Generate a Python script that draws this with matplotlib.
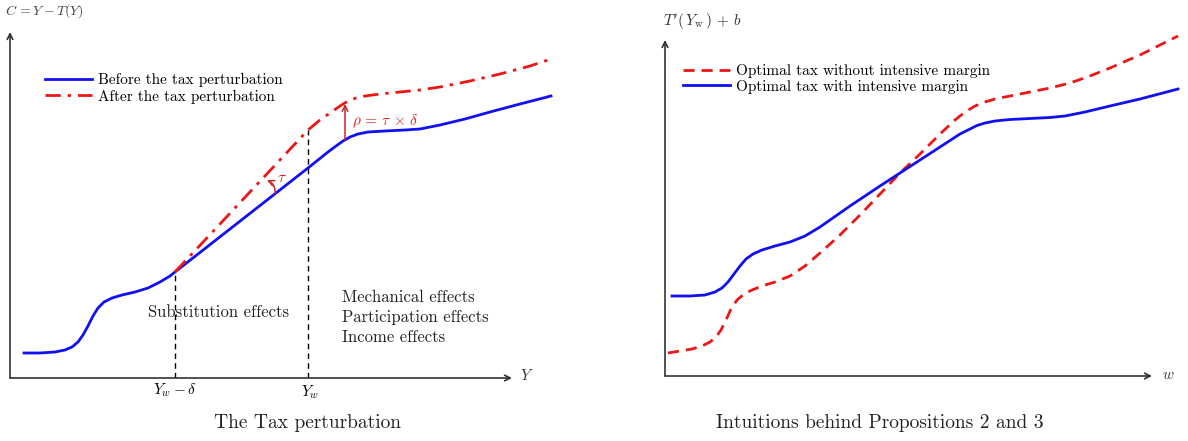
import matplotlib
matplotlib.use("Agg")
import matplotlib.pyplot as plt

plt.rcParams['font.family'] = 'serif'
plt.rcParams['font.serif'] = ['cmr10', 'DejaVu Serif']
plt.rcParams['mathtext.fontset'] = 'cm'
plt.rcParams['axes.unicode_minus'] = False

# --- left panel: the tax perturbation (units ~ pixels from the origin) ---
before_x = [14, 30, 45, 55, 62, 68, 73, 78, 83, 88, 94, 102, 112, 125, 138, 150, 160, 165,
            298, 308, 318, 326, 333, 340, 348, 358, 375, 395, 410, 430, 455, 480, 510, 541]
before_y = [25, 25, 26, 28, 31, 36, 43, 52, 62, 70, 76, 80, 83, 86, 90, 96, 102, 106,
            210, 218, 226, 232, 237, 241, 244, 246, 247, 248, 249, 253, 259, 266, 274, 282]
after_x = [165, 298, 310, 320, 330, 338, 346, 355, 370, 390, 410, 430, 460, 490, 520, 541]
after_y = [106, 248, 258, 265, 272, 277, 280, 282, 284, 286, 288, 291, 297, 304, 312, 319]
y_w_minus_delta = 165
y_w = 298
rho_x = 335
rho_lo, rho_hi = 238, 274
left_notes = ["Mechanical effects", "Participation effects", "Income effects"]

# --- right panel: optimal taxes ---
with_x = [7, 25, 40, 50, 57, 63, 69, 75, 81, 88, 97, 110, 125, 140, 155, 185, 215, 255, 295,
          305, 312, 320, 330, 345, 365, 385, 400, 420, 445, 475, 513]
with_y = [80, 80, 81, 84, 88, 94, 102, 110, 117, 122, 126, 130, 134, 140, 149, 170, 190, 216, 242,
          247, 250.5, 253, 255, 256.5, 257.5, 258.5, 260, 264, 270, 277, 287]
without_x = [3, 15, 27, 37, 45, 51, 56, 61, 66, 72, 79, 87, 97, 110, 125, 140, 155, 175, 195, 215,
             235, 255, 275, 290, 300, 310, 320, 330, 345, 365, 385, 405, 425, 445, 475, 513]
without_y = [23, 25, 27, 30, 34, 39, 46, 56, 67, 76, 82, 86, 90, 94, 100, 110, 123, 141, 161, 182,
             203, 222, 242, 256, 264, 270, 274, 277, 280, 284, 288, 293, 300, 308, 321, 340]

BLUE = '#1010f0'
RED = '#ee1515'
AX = '#333333'
W, H = 1188, 441

fig = plt.figure(figsize=(11.88, 4.41), dpi=100)

# left axes: origin at pixel (10, 378)
ax1 = fig.add_axes([10 / W, (H - 378) / H, 550 / W, 353 / H])
ax1.set_xlim(0, 550)
ax1.set_ylim(0, 353)
ax1.axis('off')

ax1.annotate('', xy=(502, 0), xytext=(0, 0), annotation_clip=False,
             arrowprops=dict(arrowstyle='->', lw=1.2, color=AX, shrinkA=0, shrinkB=0))
ax1.annotate('', xy=(0, 346), xytext=(0, 0), annotation_clip=False,
             arrowprops=dict(arrowstyle='->', lw=1.2, color=AX, shrinkA=0, shrinkB=0))

ax1.plot([y_w_minus_delta, y_w_minus_delta], [0, before_y[before_x.index(y_w_minus_delta)]],
         color='black', lw=1, ls=(0, (4, 3)))
ax1.plot([y_w, y_w], [0, after_y[after_x.index(y_w)]], color='black', lw=1, ls=(0, (4, 3)))

l1, = ax1.plot(before_x, before_y, color=BLUE, lw=2, solid_joinstyle='round',
               label='Before the tax perturbation')
l2, = ax1.plot(after_x, after_y, color=RED, lw=2, ls=(0, (5.5, 2.5, 1.2, 2.5)),
               label='After the tax perturbation')

ax1.annotate('', xy=(rho_x, rho_hi), xytext=(rho_x, rho_lo),
             arrowprops=dict(arrowstyle='->', lw=1.1, color='#cc2222', shrinkA=0, shrinkB=0))
ax1.text(rho_x + 7, (rho_lo + rho_hi) / 2 + 1, r'$\rho\,=\,\tau\,\times\,\delta$',
         color='#dd2222', fontsize=11, va='center', ha='left')
ax1.annotate('', xy=(257, 198), xytext=(265, 184),
             arrowprops=dict(arrowstyle='->', lw=1.1, color='#cc2222', shrinkA=0, shrinkB=0,
                             connectionstyle='arc3,rad=0.35'))
ax1.text(267, 200, r'$\tau$', color='#dd2222', fontsize=11, va='center', ha='left')

ax1.text(138, 66, 'Substitution effects', fontsize=12, va='center', ha='left', color='#222222')
for i, note in enumerate(left_notes):
    ax1.text(332, 81 - i * 20, note, fontsize=12, va='center', ha='left', color='#222222')

ax1.text(y_w_minus_delta, -12, r'$Y_w-\delta$', fontsize=11, ha='center', va='center')
ax1.text(y_w + 2, -14, r'$Y_w$', fontsize=11, ha='center', va='center')
ax1.text(517, 3, r'$Y$', fontsize=11, ha='center', va='center', color='#333333')
ax1.text(-5, 367, r'$C\,=Y-T(Y)$', fontsize=10, ha='left', va='center', color='#444444')

ax1.legend(handles=[l1, l2], loc='upper left', bbox_to_anchor=(45 / W, 1 - 73 / H),
           bbox_transform=fig.transFigure, frameon=False, fontsize=11, borderpad=0,
           borderaxespad=0, handlelength=3.1, handletextpad=0.4, labelspacing=0.15)

# right axes: origin at pixel (665, 376)
ax2 = fig.add_axes([665 / W, (H - 376) / H, 520 / W, 351 / H])
ax2.set_xlim(0, 520)
ax2.set_ylim(0, 351)
ax2.axis('off')

ax2.annotate('', xy=(487, 0), xytext=(0, 0), annotation_clip=False,
             arrowprops=dict(arrowstyle='->', lw=1.2, color=AX, shrinkA=0, shrinkB=0))
ax2.annotate('', xy=(0, 336), xytext=(0, 0), annotation_clip=False,
             arrowprops=dict(arrowstyle='->', lw=1.2, color=AX, shrinkA=0, shrinkB=0))

r1, = ax2.plot(without_x, without_y, color=RED, lw=2, ls=(0, (4, 2.5)),
               label='Optimal tax without intensive margin')
r2, = ax2.plot(with_x, with_y, color=BLUE, lw=2, solid_joinstyle='round',
               label='Optimal tax with intensive margin')

ax2.text(503, 1, r'$w$', fontsize=11, ha='center', va='center', color='#333333')
ax2.text(-2, 354, r"$T'(\,Y_{\rm w}\,)\,+\,b$", fontsize=11, ha='left', va='center', color='#333333')

ax2.legend(handles=[r1, r2], loc='upper left', bbox_to_anchor=(683 / W, 1 - 64 / H),
           bbox_transform=fig.transFigure, frameon=False, fontsize=11, borderpad=0,
           borderaxespad=0, handlelength=3.1, handletextpad=0.4, labelspacing=0.1)

fig.text(308 / W, 1 - 423 / H, 'The Tax perturbation', fontsize=14, ha='center', va='center',
         color='#222222')
fig.text(880 / W, 1 - 423 / H, 'Intuitions behind Propositions 2 and 3', fontsize=14,
         ha='center', va='center', color='#222222')

fig.savefig('out.png', dpi=100)
